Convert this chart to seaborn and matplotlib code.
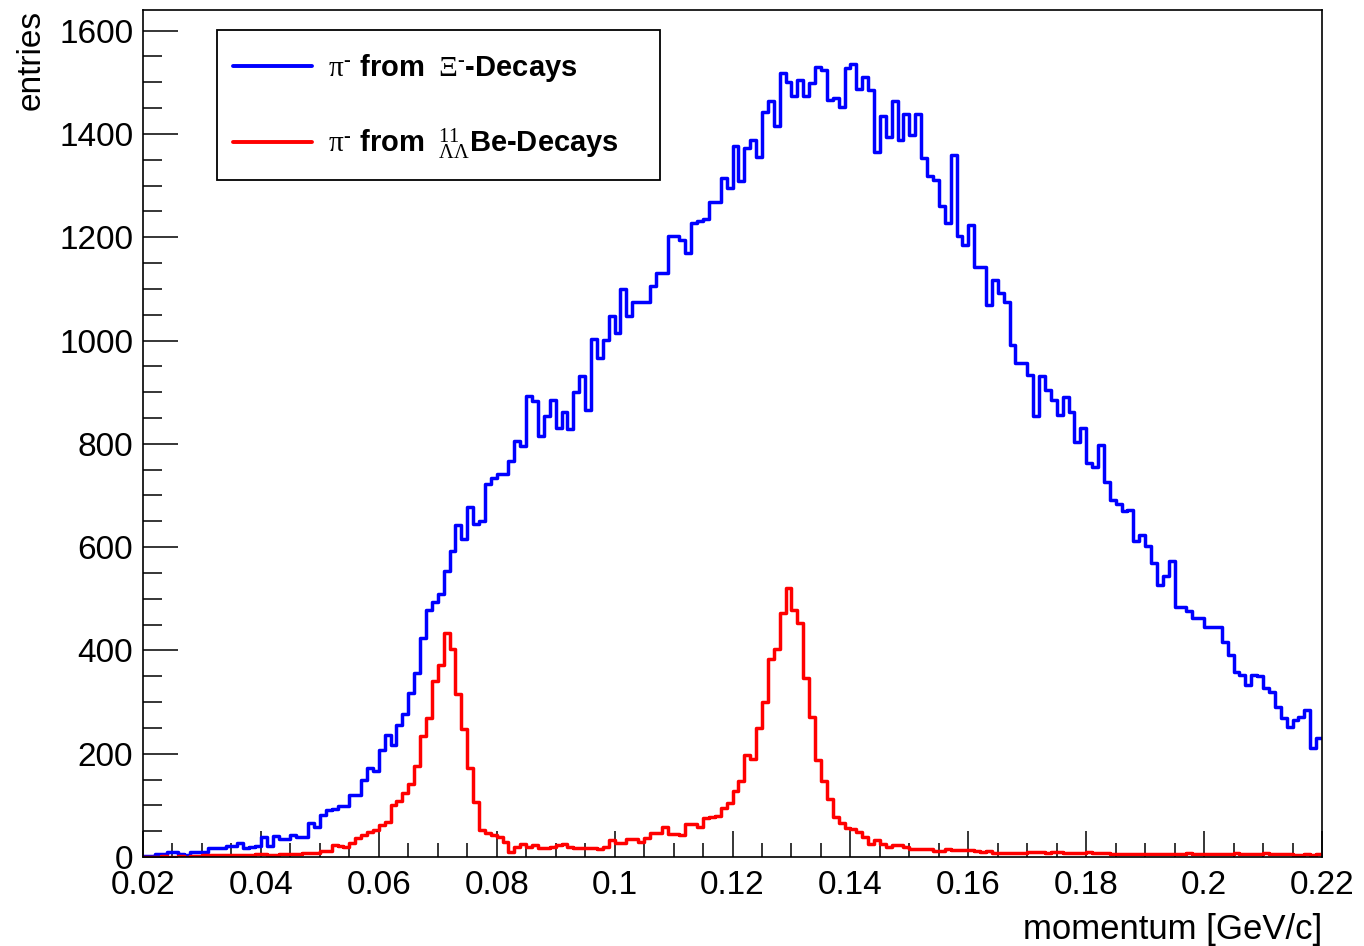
import numpy as np
import pandas as pd
import matplotlib
matplotlib.use("Agg")
import matplotlib.pyplot as plt
import seaborn as sns
from matplotlib.ticker import MultipleLocator, FuncFormatter
from matplotlib.lines import Line2D
from matplotlib.patches import Rectangle

# ---------------- data (200 bins of 1 MeV/c between 0.02 and 0.22 GeV/c) ----------------
x_min, x_max, n_bins = 0.02, 0.22, 200

xi_counts = [
    2, 2, 6, 6, 10, 10, 6, 4, 10, 10,
    10, 17, 17, 17, 21, 21, 27, 17, 20, 21,
    39, 22, 40, 35, 35, 42, 38, 38, 66, 58,
    81, 91, 92, 99, 99, 120, 120, 149, 172, 167,
    207, 236, 217, 256, 277, 318, 356, 424, 478, 494,
    509, 554, 593, 642, 616, 678, 645, 651, 722, 734,
    742, 742, 767, 806, 796, 893, 882, 815, 853, 885,
    830, 862, 829, 901, 932, 866, 1003, 967, 1001, 1047,
    1015, 1100, 1047, 1074, 1074, 1074, 1105, 1131, 1131, 1203,
    1203, 1195, 1170, 1228, 1232, 1235, 1269, 1269, 1315, 1295,
    1377, 1308, 1373, 1389, 1355, 1442, 1463, 1416, 1518, 1500,
    1473, 1504, 1473, 1498, 1530, 1523, 1466, 1470, 1453, 1528,
    1536, 1487, 1511, 1486, 1366, 1435, 1395, 1463, 1389, 1439,
    1398, 1439, 1353, 1318, 1310, 1260, 1227, 1360, 1202, 1185,
    1224, 1142, 1142, 1069, 1118, 1092, 1074, 992, 956, 956,
    934, 854, 932, 904, 885, 856, 891, 862, 804, 830,
    762, 755, 797, 727, 692, 684, 670, 671, 611, 624,
    602, 570, 527, 544, 574, 484, 484, 477, 462, 462,
    446, 445, 445, 417, 391, 359, 352, 333, 352, 350,
    327, 320, 290, 269, 251, 265, 271, 285, 211, 230,
]

be_counts = [
    0, 0, 0, 1, 0, 0, 1, 0, 2, 2,
    3, 3, 3, 3, 3, 3, 3, 3, 3, 5,
    5, 3, 3, 5, 5, 5, 5, 8, 8, 8,
    12, 12, 23, 22, 20, 27, 37, 43, 49, 52,
    62, 68, 101, 109, 123, 141, 176, 234, 269, 340,
    372, 433, 402, 316, 247, 172, 107, 52, 47, 43,
    39, 30, 10, 20, 26, 20, 23, 17, 17, 20,
    23, 26, 20, 17, 17, 17, 17, 15, 19, 33,
    28, 28, 34, 34, 30, 36, 46, 46, 59, 45,
    45, 43, 64, 64, 59, 75, 78, 80, 94, 104,
    127, 148, 198, 189, 249, 301, 383, 402, 472, 520,
    478, 454, 346, 272, 187, 148, 112, 78, 66, 57,
    55, 49, 39, 26, 33, 26, 20, 23, 24, 20,
    15, 15, 15, 15, 12, 12, 16, 14, 14, 14,
    14, 12, 10, 12, 7, 8, 8, 8, 8, 8,
    10, 10, 10, 7, 10, 10, 7, 7, 7, 8,
    10, 7, 7, 8, 6, 6, 5, 6, 5, 6,
    5, 6, 5, 5, 6, 6, 5, 7, 6, 5,
    6, 6, 5, 5, 6, 8, 6, 6, 6, 5,
    7, 6, 6, 5, 6, 4, 4, 5, 4, 5,
]

series_labels = [r"$\pi^{\text{-}}$ from $\;\Xi^{\text{-}}$-Decays",
                 r"$\pi^{\text{-}}$ from $\;{}^{11}_{\Lambda\Lambda}$Be-Decays"]
series_colors = ["#0000ff", "#ff0000"]
x_label = "momentum [GeV/c]"
y_label = "entries"

# ---------------- style ----------------
sns.set_style("white")
plt.rcParams["font.family"] = ["Liberation Sans", "DejaVu Sans"]
plt.rcParams["mathtext.fontset"] = "custom"
plt.rcParams["mathtext.rm"] = "Liberation Serif"
plt.rcParams["mathtext.it"] = "Liberation Serif"
plt.rcParams["mathtext.bf"] = "Liberation Serif:bold"
for key in ["text.color", "axes.labelcolor", "xtick.color", "ytick.color"]:
    plt.rcParams[key] = "black"

W, H = 1364, 946
fig = plt.figure(figsize=(W / 100, H / 100), dpi=100)
L, R, T, B = 143, 1322, 10, 857
ax = fig.add_axes([L / W, 1 - B / H, (R - L) / W, (B - T) / H])

edges = np.linspace(x_min, x_max, n_bins + 1)
centers = 0.5 * (edges[:-1] + edges[1:])

for counts, col in zip([xi_counts, be_counts], series_colors):
    df = pd.DataFrame({"momentum": centers, "entries": np.asarray(counts, dtype=float)})
    sns.histplot(data=df, x="momentum", weights="entries", bins=list(edges),
                 element="step", fill=False, color=col, linewidth=2.5, ax=ax)

ax.set_xlim(x_min, x_max)
ax.set_ylim(0, 1640)

# axes frame & ticks (ROOT style)
for s in ax.spines.values():
    s.set_linewidth(1.2)
    s.set_color("black")
ax.xaxis.set_major_locator(MultipleLocator(0.02))
ax.xaxis.set_minor_locator(MultipleLocator(0.005))
ax.yaxis.set_major_locator(MultipleLocator(200))
ax.yaxis.set_minor_locator(MultipleLocator(50))
ax.xaxis.set_major_formatter(FuncFormatter(lambda v, p: "%g" % round(v, 3)))
ax.tick_params(axis="both", which="both", direction="in", bottom=True, left=True,
               top=False, right=False, width=1.1, color="black",
               labelcolor="black", labelsize=24)
ax.tick_params(axis="y", which="major", length=25.5, pad=7)
ax.tick_params(axis="y", which="minor", length=13.5)
ax.tick_params(axis="x", which="major", length=18.5, pad=9)
ax.tick_params(axis="x", which="minor", length=10)

ax.set_xlabel(x_label, fontsize=25, loc="right", color="black")
ax.xaxis.set_label_coords(1.0, -0.066)
ax.xaxis.label.set_verticalalignment("top")
ax.set_ylabel(y_label, fontsize=24, loc="top", color="black")
ax.yaxis.set_label_coords(-0.0816, 1.0)

# legend box
ax.add_patch(Rectangle((0.0628, 0.7993), 0.3757, 0.1771, transform=ax.transAxes,
                       facecolor="white", edgecolor="black", linewidth=1.3, zorder=5))
handles = [Line2D([], [], color=c, linewidth=2.8) for c in series_colors]
leg = ax.legend(handles, series_labels, loc="center left",
                bbox_to_anchor=(0.0763, 0.885), frameon=False,
                prop={"weight": "bold", "size": 21}, handlelength=2.7,
                handletextpad=0.55, borderpad=0, borderaxespad=0,
                labelspacing=1.45)
leg.set_zorder(6)

fig.savefig("out.png", dpi=100, facecolor="white")
